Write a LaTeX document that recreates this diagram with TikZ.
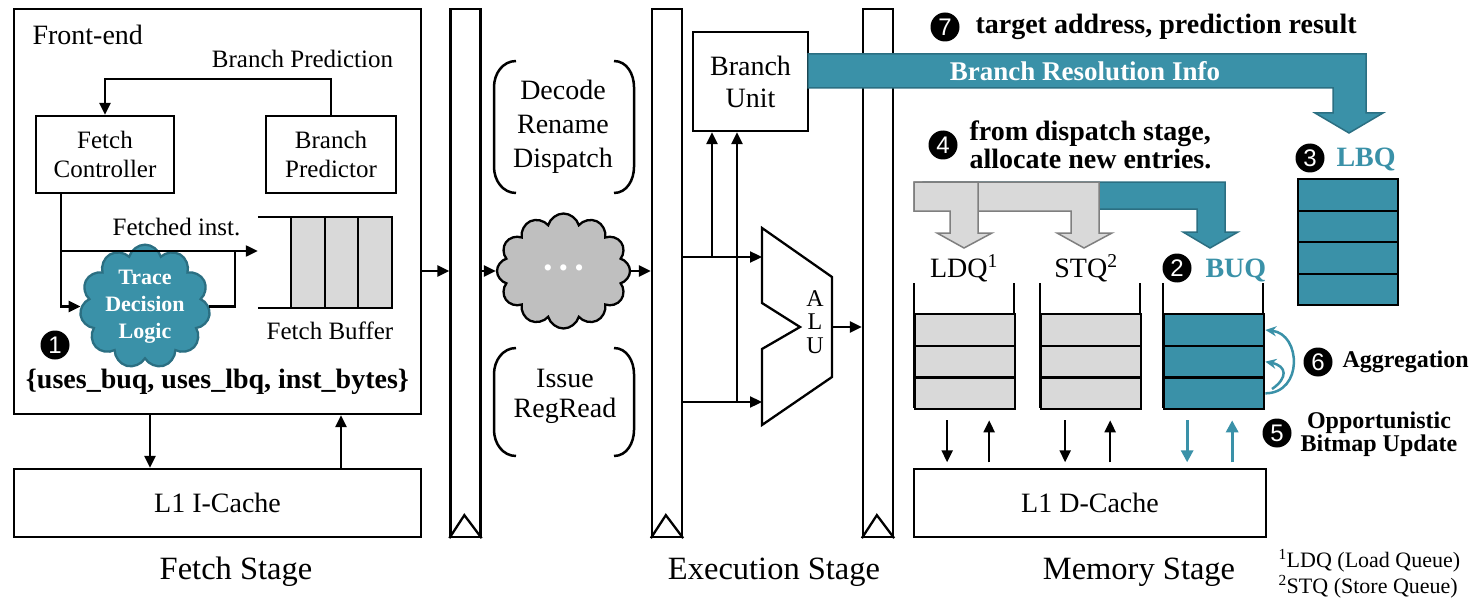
\documentclass[tikz,border=0pt]{standalone}
\usepackage{fontspec}
\setmainfont{Liberation Serif}
\newfontfamily\numfont{Liberation Sans}
\usetikzlibrary{arrows.meta,shapes.symbols}

\definecolor{tealfill}{HTML}{3A91A8}
\definecolor{tealline}{HTML}{2B6F82}
\definecolor{cellgray}{HTML}{D9D9D9}
\definecolor{edgegray}{HTML}{7F7F7F}
\definecolor{cloudgray}{HTML}{BFBFBF}
\newcommand{\setsz}[2]{\fontsize{#1}{#2}\selectfont}

\tikzset{
  blk/.style={draw, line width=2.3pt, inner sep=0pt},
  arr/.style={line width=2.3pt, -{Triangle[length=12pt,width=11pt]}},
  tarr/.style={line width=3pt, tealfill, -{Triangle[length=12pt,width=12pt]}},
  agg/.style={line width=2.5pt, tealfill, -{Stealth[length=11pt,width=10pt]}},
  brk/.style={line width=2.5pt},
  reg/.style={draw, line width=2.3pt, minimum width=30, minimum height=528},
  cell/.style={draw, line width=2.3pt, minimum width=100, anchor=north west},
  num/.style={circle, fill=black, text=white, inner sep=0pt, minimum size=29, font=\numfont\setsz{24}{24}},
  lbl/.style={font=\setsz{25}{29}, align=center},
  big/.style={font=\setsz{28}{32}, align=center},
  note/.style={font=\bfseries\setsz{28}{28}, align=left},
  stage/.style={font=\setsz{32.5}{36}, anchor=base},
}

\begin{document}
\begin{tikzpicture}[x=1pt,y=-1pt]
\useasboundingbox (0,0) rectangle (1470,599);

% fetch stage
\node[blk, minimum width=407, minimum height=405] (fe) at (217.5,211.5) {};
\node[big, anchor=base west] at (29,45) {Front-end};
\node[blk, lbl, minimum width=138, minimum height=77] (fc) at (105,154.5) {Fetch\\Controller};
\node[blk, lbl, minimum width=130, minimum height=77] (bp) at (331,154.5) {Branch\\Predictor};
\node[lbl, anchor=base] at (302.5,68) {Branch Prediction};
\draw[arr] (bp.north) -- ++(0,-36) -| (fc.north);

\node[cloud, cloud puffs=11, cloud ignores aspect, draw=tealline, fill=tealfill, line width=2.3pt, inner sep=0pt,
  minimum width=130, minimum height=103, text=white, align=center, font=\bfseries\setsz{22}{27}] (tdl) at (145,306.5) {Trace\\Decision\\Logic};
\node[minimum width=134, minimum height=91] (fb) at (325,262.5) {};
\coordinate (split) at (61,251);
\coordinate (merge) at (235,251);
\draw[arr] ([xshift=-44pt]fc.south) |- (tdl.west);
\draw[arr] (split) -- (split -| fb.west);
\draw[line width=2.3pt] (tdl.east) -| (merge);
\draw[line width=2.3pt] (fb.north west) -- (fb.north east) (fb.south west) -- (fb.south east);
\foreach \k in {0,1,2}
  \draw[line width=2.3pt, fill=cellgray] (291+33.67*\k,217) rectangle ++(33.67,91);
\node[lbl, anchor=base] at (176.5,235) {Fetched inst.};
\node[lbl, anchor=base] at (330,339) {Fetch Buffer};
\node[num] at (55,345) {1};
\node[font=\bfseries\setsz{28}{28}, anchor=base] at (217.5,388) {\{uses\_buq, uses\_lbq, inst\_bytes\}};

\node[blk, big, minimum width=407, minimum height=68] (ic) at (217.5,503) {L1 I-Cache};
\draw[arr] ([xshift=-67.5pt]fe.south) -- ([xshift=-67.5pt]ic.north);
\draw[arr] ([xshift=123.5pt]ic.north) -- ([xshift=123.5pt]fe.south);
\node[stage] at (236,579) {Fetch Stage};

% pipeline registers
\foreach \n/\x in {r1/465.5, r2/667, r3/878} {
  \node[reg] (\n) at (\x,273) {};
  \draw[line width=2.3pt] (\n.south west) -- ++(15,-23) -- (\n.south east);
}

% decode / issue
\node[cloud, cloud puffs=12, cloud ignores aspect, draw, fill=cloudgray, line width=2.3pt,
  minimum width=133, minimum height=115, text=white, font=\setsz{26}{26}] (dd) at (563.5,271) {• • •};
\draw[arr] (fe.east |- dd) -- (r1.west |- dd);
\draw[arr] (r1.east |- dd) -- (dd.west);
\draw[arr] (dd.east) -- (r2.west |- dd);
\node[big, font=\setsz{28}{34}] (ddr) at (563,127) {Decode\\Rename\\Dispatch};
\node[big, font=\setsz{28}{30}] (irr) at (565,396) {Issue\\RegRead};
\foreach \t/\b in {61/193, 348/456} {
  \draw[brk] (516,\t) to[out=180,in=90] (494,\t+26) -- (494,\b-26) to[out=-90,in=180] (516,\b);
  \draw[brk] (614,\t) to[out=0,in=90] (634,\t+26) -- (634,\b-26) to[out=-90,in=0] (614,\b);
}

% execution stage
\node[blk, big, font=\setsz{28}{32}, minimum width=115, minimum height=99] (bu) at (750.5,81.5) {Branch\\Unit};
\draw[line width=2.3pt] (762,228) -- (832,277) -- (832,377) -- (762,425) -- (762,349) -- (800,327) -- (762,303) -- cycle;
\coordinate (alu1) at (762,257);
\coordinate (alu2) at (762,402);
\coordinate (aluout) at (832,327);
\coordinate (bu1) at ([xshift=-38.5pt]bu.south);
\coordinate (bu2) at ([xshift=-13.5pt]bu.south);
\node[font=\setsz{24}{23.5}, align=center] (alu) at (815,322) {A\\L\\U};
\draw[arr] (r2.east |- alu1) -- (alu1);
\draw[arr] (r2.east |- alu2) -- (alu2);
\draw[arr] (bu1 |- alu1) -- (bu1);
\draw[arr] (bu2 |- alu2) -- (bu2);
\draw[arr] (aluout) -- (r3.west |- aluout);
\node[stage] at (774,579) {Execution Stage};

% branch resolution info
\draw[draw=tealline, fill=tealfill, line width=1.5pt] (808,54) -- (1366,54) -- (1366,113) -- (1383,113) -- (1349,133)
  -- (1315,113) -- (1333,113) -- (1333,88) -- (808,88) -- cycle;
\node[font=\bfseries\setsz{27}{27}, text=white, anchor=base] at (1085,81) {Branch Resolution Info};
\node[num] at (945,27) {7};
\node[note, anchor=base west] at (972,34) {target address, prediction result};

% dispatch arrows
\node[num] at (943,145) {4};
\node[note, anchor=west] at (966,144.5) {from dispatch stage,\\allocate new entries.};
\draw[draw=tealline, fill=tealfill, line width=1.5pt] (923,182) -- (1225,182) -- (1225,232) -- (1238,232) -- (1210,248)
  -- (1183,232) -- (1197,232) -- (1197,209) -- (923,209) -- cycle;
\draw[draw=edgegray, fill=cellgray, line width=1.5pt] (914,182) -- (1099,182) -- (1099,233) -- (1112,233) -- (1084,248)
  -- (1057,233) -- (1071,233) -- (1071,211) -- (914,211) -- cycle;
\draw[draw=edgegray, fill=cellgray, line width=1.5pt] (914,182) -- (978,182) -- (978,233) -- (992,233) -- (964,248)
  -- (937,233) -- (950,233) -- (950,211) -- (914,211) -- cycle;

% memory stage queues
\node[big, anchor=base] at (964,277) {LDQ\textsuperscript{1}};
\node[big, anchor=base] at (1086,277) {STQ\textsuperscript{2}};
\node[num] at (1177,268) {2};
\node[font=\bfseries\setsz{28}{28}, text=tealfill, anchor=base west] at (1202,277) {BUQ};
\foreach \n/\x/\c in {ldq/914/cellgray, stq/1040/cellgray, buq/1163/tealfill} {
  \draw[line width=2.3pt] (\x,283) -- (\x,408) (\x+100,283) -- (\x+100,408);
  \foreach \k in {0,1,2}
    \node[cell, fill=\c, minimum height=31.67] (\n\k) at (\x,313+31.67*\k) {};
}
\node[num] at (1310,158) {3};
\node[font=\bfseries\setsz{28}{28}, text=tealfill, anchor=base west] at (1333,167) {LBQ};
\foreach \k in {0,...,3}
  \node[cell, fill=tealfill, minimum height=31.5] (lbq\k) at (1297,178+31.5*\k) {};

\draw[agg] (buq2.east) .. controls +(38,0) and +(36,4) .. (buq0.east);
\draw[agg] (1272,389) .. controls (1288,378) and (1287,366) .. (buq1.east);
\node[num] at (1318,362) {6};
\node[font=\bfseries\setsz{24}{24}, anchor=base west] at (1339,367) {Aggregation};
\node[num] at (1277,433) {5};
\node[font=\bfseries\setsz{24}{23}, align=center] at (1379,434.5) {Opportunistic\\Bitmap Update};

\foreach \n/\a/\b/\s in {ldq/-18/24/arr, stq/-26/19/arr, buq/-27/18/tarr} {
  \draw[\s] ([shift={(\a,10)}]\n2.south) -- ++(0,42);
  \draw[\s] ([shift={(\b,52)}]\n2.south) -- ++(0,-42);
}
\node[blk, big, minimum width=352, minimum height=68] (dc) at (1090,503) {L1 D-Cache};
\node[stage] at (1139,579) {Memory Stage};
\node[font=\setsz{22}{26}, anchor=base west] at (1275,567) {\textsuperscript{1}LDQ (Load Queue)};
\node[font=\setsz{22}{26}, anchor=base west] at (1275,593) {\textsuperscript{2}STQ (Store Queue)};
\end{tikzpicture}
\end{document}
